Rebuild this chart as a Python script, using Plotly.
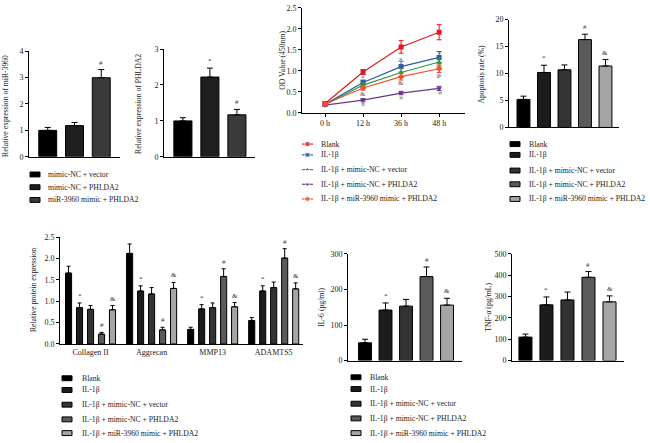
import plotly.graph_objects as go

W, H = 650, 443
FONT = "Liberation Serif"
TICK_SIZE = 8
LEG_SIZE = 7.7
TITLE_SIZE = 7.7


def px(x):
    return x / W


def py(y):
    return 1 - y / H


# ---------------- data ----------------
# Panel A (miR-3960 / PHLDA2 expression)
a_groups = ["mimic-NC + vector", "mimic-NC + PHLDA2", "miR-3960 mimic + PHLDA2"]
a_colors = ["#000000", "#1e1e1e", "#3a3a3a"]
mir_vals = [1.0, 1.18, 2.99]
mir_err = [0.11, 0.12, 0.31]
mir_sig = ["", "", "#"]
phl_vals = [1.0, 2.22, 1.17]
phl_err = [0.09, 0.25, 0.15]
phl_sig = ["", "*", "#"]

# five-group panels
groups5 = ["Blank", "IL-1β", "IL-1β + mimic-NC + vector",
           "IL-1β + mimic-NC + PHLDA2", "IL-1β + miR-3960 mimic + PHLDA2"]
colors5 = ["#000000", "#1c1c1c", "#333333", "#5a5a5a", "#a5a5a5"]
sig5 = ["", "*", "", "#", "&"]

# Panel C (CCK-8 OD)
c_times = ["0 h", "12 h", "36 h", "48 h"]
od_blank = [0.22, 0.97, 1.57, 1.92]
od_blank_err = [0.03, 0.06, 0.15, 0.18]
od_il1b = [0.20, 0.72, 1.10, 1.32]
od_il1b_err = [0.02, 0.06, 0.13, 0.14]
od_vector = [0.19, 0.66, 0.96, 1.21]
od_vector_err = [0.02, 0.05, 0.10, 0.10]
od_phlda2 = [0.18, 0.30, 0.47, 0.58]
od_phlda2_err = [0.02, 0.04, 0.04, 0.05]
od_mir = [0.21, 0.59, 0.86, 1.05]
od_mir_err = [0.02, 0.05, 0.08, 0.09]
od_colors = ["#e3191c", "#2f5ba8", "#2e9a3a", "#6a3590", "#f2512a"]
od_symbols = ["square", "square", "triangle-up", "triangle-down", "diamond"]
c_sig_text = ["*", "&", "#", "*", "&", "#", "*", "&", "#"]
c_sig_x = [1, 1, 1, 2, 2, 2, 3, 3, 3]
c_sig_y = [0.84, 0.44, 0.19, 1.25, 0.70, 0.35, 1.43, 0.86, 0.46]
c_sig_rot = [0, 0, 90, 0, 0, 90, 90, 90, 90]

# Panel D (apoptosis)
apo_vals = [5.2, 10.2, 10.7, 16.3, 11.4]
apo_err = [0.6, 1.35, 0.9, 1.0, 1.2]

# Panel E (protein)
prot_cats = ["Collagen II", "Aggrecan", "MMP13", "ADAMTS5"]
prot_blank = [1.66, 2.12, 0.34, 0.55]
prot_blank_err = [0.16, 0.22, 0.05, 0.07]
prot_il1b = [0.85, 1.24, 0.82, 1.24]
prot_il1b_err = [0.11, 0.12, 0.10, 0.12]
prot_vector = [0.81, 1.17, 0.85, 1.32]
prot_vector_err = [0.09, 0.15, 0.11, 0.13]
prot_phlda2 = [0.23, 0.33, 1.58, 2.01]
prot_phlda2_err = [0.04, 0.06, 0.18, 0.22]
prot_mir = [0.80, 1.30, 0.87, 1.29]
prot_mir_err = [0.10, 0.14, 0.10, 0.14]

# Panel F (IL-6) and G (TNF-a)
il6_vals = [50, 142, 153, 236, 156]
il6_err = [10, 20, 19, 27, 19]
tnf_vals = [110, 261, 284, 390, 275]
tnf_err = [14, 37, 37, 27, 28]

# ---------------- figure ----------------
fig = go.Figure()

axis_common = dict(showline=True, linecolor="black", linewidth=1, showgrid=False,
                   zeroline=False, ticks="outside", ticklen=3, tickwidth=1,
                   tickcolor="black", tickfont=dict(family=FONT, size=TICK_SIZE, color="#222"))

annotations = []
shapes = []


def err_bar(err):
    return dict(type="data", array=err, arrayminus=[0] * len(err), symmetric=False,
                thickness=1, width=3, color="black")


def add_bars(xa, ya, vals, err, colors, width, sig):
    xs = list(range(len(vals)))
    fig.add_trace(go.Bar(x=xs, y=vals, width=width, marker=dict(color=colors, line=dict(color="black", width=1)),
                         error_y=err_bar(err), xaxis=xa, yaxis=ya, showlegend=False))
    for x, v, e, s in zip(xs, vals, err, sig):
        if s:
            annotations.append(dict(x=x, y=v + e, xref=xa, yref=ya, text=s, showarrow=False,
                                    yanchor="bottom", yshift=1, font=dict(family=FONT, size=7, color="#333")))


def ytitle(text, x, y):
    annotations.append(dict(x=px(x), y=py(y), xref="paper", yref="paper", text=text, textangle=-90,
                            showarrow=False, xanchor="center", yanchor="middle",
                            font=dict(family=FONT, size=TITLE_SIZE, color="#222")))


# A
add_bars("x", "y", mir_vals, mir_err, a_colors, 0.67, mir_sig)
# B
add_bars("x2", "y2", phl_vals, phl_err, a_colors, 0.67, phl_sig)
# D
add_bars("x4", "y4", apo_vals, apo_err, colors5, 0.63, sig5)
# F
add_bars("x6", "y6", il6_vals, il6_err, colors5, 0.63, sig5)
# G
add_bars("x7", "y7", tnf_vals, tnf_err, colors5, 0.62, sig5)

# C lines
od_series = [(od_blank, od_blank_err), (od_il1b, od_il1b_err), (od_vector, od_vector_err),
             (od_phlda2, od_phlda2_err), (od_mir, od_mir_err)]
for (vals, err), col, sym in zip(od_series, od_colors, od_symbols):
    fig.add_trace(go.Scatter(x=list(range(len(c_times))), y=vals, mode="lines+markers",
                             line=dict(color=col, width=1.2),
                             marker=dict(symbol=sym, size=5, color=col),
                             error_y=dict(type="data", array=err, thickness=1, width=2.5, color=col),
                             xaxis="x3", yaxis="y3", showlegend=False))
for t, x, y, r in zip(c_sig_text, c_sig_x, c_sig_y, c_sig_rot):
    annotations.append(dict(x=x, y=y, xref="x3", yref="y3", text=t, showarrow=False, textangle=r,
                            font=dict(family=FONT, size=7, color="#555")))

# E grouped
prot_series = [(prot_blank, prot_blank_err), (prot_il1b, prot_il1b_err), (prot_vector, prot_vector_err),
               (prot_phlda2, prot_phlda2_err), (prot_mir, prot_mir_err)]
step, bw = 0.18, 0.1
for i, ((vals, err), col) in enumerate(zip(prot_series, colors5)):
    off = (i - 2) * step - bw / 2
    xs = list(range(len(prot_cats)))
    fig.add_trace(go.Bar(x=xs, y=vals, width=bw, offset=off,
                         marker=dict(color=col, line=dict(color="black", width=1)),
                         error_y=dict(type="data", array=err, arrayminus=[0] * len(err), symmetric=False,
                                      thickness=1, width=2, color="black"),
                         xaxis="x5", yaxis="y5", showlegend=False))
    if sig5[i]:
        for x, v, e in zip(xs, vals, err):
            annotations.append(dict(x=x + off + bw / 2, y=v + e, xref="x5", yref="y5", text=sig5[i],
                                    showarrow=False, yanchor="bottom", yshift=1,
                                    font=dict(family=FONT, size=7, color="#333")))

# ---------------- axes ----------------
bar_x = dict(axis_common, ticks="", showticklabels=False)
layout_axes = dict(
    xaxis=dict(bar_x, domain=[px(29), px(120)], range=[-0.7, 2.7], anchor="y"),
    yaxis=dict(axis_common, domain=[py(156), py(48)], range=[0, 4], tickvals=[0, 1, 2, 3, 4], anchor="x"),
    xaxis2=dict(bar_x, domain=[px(164), px(255)], range=[-0.7, 2.67], anchor="y2"),
    yaxis2=dict(axis_common, domain=[py(156), py(46)], range=[0, 3], tickvals=[0, 1, 2, 3], anchor="x2"),
    xaxis3=dict(axis_common, domain=[px(302), px(465)], range=[-0.605, 3.68], anchor="y3",
                tickvals=list(range(len(c_times))), ticktext=c_times),
    yaxis3=dict(axis_common, domain=[py(111), py(4)], range=[0, 2.5], tickvals=[0, 0.5, 1, 1.5, 2, 2.5],
                tickformat=".1f", anchor="x3"),
    xaxis4=dict(bar_x, domain=[px(509), px(619)], range=[-0.707, 4.66], anchor="y4"),
    yaxis4=dict(axis_common, domain=[py(126), py(16)], range=[0, 20], tickvals=[0, 5, 10, 15, 20], anchor="x4"),
    xaxis5=dict(axis_common, ticks="", domain=[px(60), px(303)], range=[-0.5, 3.48], anchor="y5",
                tickvals=list(range(len(prot_cats))), ticktext=prot_cats),
    yaxis5=dict(axis_common, domain=[py(347), py(238)], range=[0, 2.5], tickvals=[0, 0.5, 1, 1.5, 2, 2.5],
                tickformat=".1f", anchor="x5"),
    xaxis6=dict(bar_x, domain=[px(348), px(462)], range=[-0.83, 4.73], anchor="y6"),
    yaxis6=dict(axis_common, domain=[py(364), py(255)], range=[0, 300], tickvals=[0, 100, 200, 300], anchor="x6"),
    xaxis7=dict(bar_x, domain=[px(512), px(624)], range=[-0.64, 4.69], anchor="y7"),
    yaxis7=dict(axis_common, domain=[py(364), py(255)], range=[0, 500],
                tickvals=[0, 100, 200, 300, 400, 500], anchor="x7"),
    # overlay pixel axis for legend markers
    xaxis8=dict(domain=[0, 1], range=[0, W], visible=False, anchor="y8"),
    yaxis8=dict(domain=[0, 1], range=[H, 0], visible=False, anchor="x8"),
)

# axis titles
ytitle("Relative expression of miR-3960", 6, 104)
ytitle("Relative expression of PHLDA2", 139, 102)
ytitle("OD Value (450nm)", 283, 58)
ytitle("Apoptosis rate (%)", 482, 72)
ytitle("Relative protein expression", 33, 292)
ytitle("IL-6 (pg/ml)", 322, 310)
ytitle("TNF-α (pg/mL)", 489, 310)


# ---------------- legends ----------------
def box_legend(names, colors, x0, x1, text_x, rows):
    for n, c, r in zip(names, colors, rows):
        shapes.append(dict(type="rect", xref="paper", yref="paper", x0=px(x0), x1=px(x1),
                           y0=py(r + 2.5), y1=py(r - 2.5), fillcolor=c, line=dict(color="black", width=1)))
        annotations.append(dict(x=px(text_x), y=py(r), xref="paper", yref="paper", text=n, showarrow=False,
                                xanchor="left", yanchor="middle",
                                font=dict(family=FONT, size=LEG_SIZE, color="#222")))


box_legend(a_groups, a_colors, 30, 40, 46, [174, 187, 200])
box_legend(groups5, colors5, 510, 520, 527, [143, 154, 170, 184, 199])
box_legend(groups5, colors5, 62, 72, 80, [382, 394, 409, 424, 438])
box_legend(groups5, colors5, 351, 361, 368, [381, 393, 408, 423, 438])

c_rows = [143, 154, 169, 184, 199]
for n, c, s, r in zip(groups5, od_colors, od_symbols, c_rows):
    fig.add_trace(go.Scatter(x=[302, 307.5, 313], y=[r, r, r], mode="lines+markers",
                             line=dict(color=c, width=1.2), marker=dict(symbol=s, size=[0, 5, 0], color=c),
                             xaxis="x8", yaxis="y8", showlegend=False, hoverinfo="skip"))
    annotations.append(dict(x=px(319), y=py(r), xref="paper", yref="paper", text=n, showarrow=False,
                            xanchor="left", yanchor="middle",
                            font=dict(family=FONT, size=LEG_SIZE, color="#222")))

fig.update_layout(
    width=W, height=H, margin=dict(l=0, r=0, t=0, b=0),
    paper_bgcolor="white", plot_bgcolor="rgba(0,0,0,0)",
    barmode="overlay", showlegend=False,
    font=dict(family=FONT, size=8, color="#222"),
    annotations=annotations, shapes=shapes,
    **layout_axes,
)

fig.write_html("out.html", config={"displayModeBar": False},
               post_script="document.body.style.margin='0';document.body.style.overflow='hidden';")
